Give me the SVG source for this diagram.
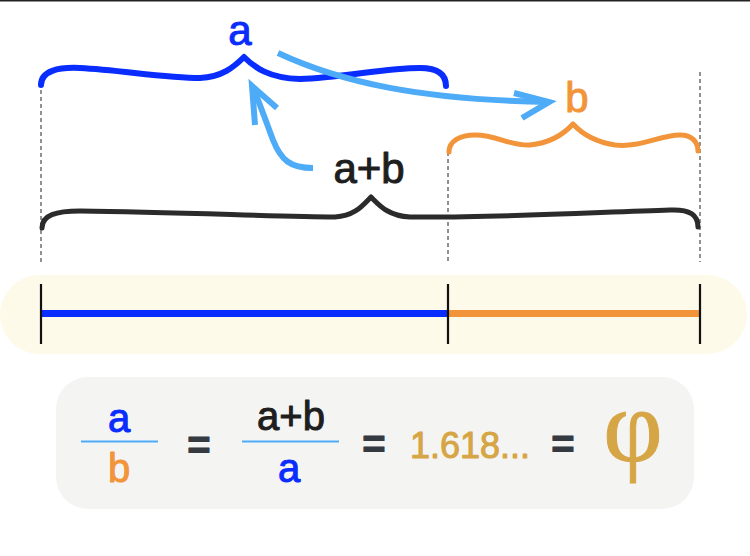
<svg xmlns="http://www.w3.org/2000/svg" width="750" height="556" viewBox="0 0 750 556">
  <style>
    .txt { font-family: "Liberation Sans", "DejaVu Sans", sans-serif; text-anchor: middle; stroke-width: 1; stroke-linejoin: round; }
    .brace { fill: none; stroke-linecap: round; stroke-linejoin: round; }
    .guide { stroke: #222222; stroke-width: 1; stroke-dasharray: 4 3; fill: none; }
    .arrow { fill: none; stroke: #4dabf7; stroke-width: 6; stroke-linecap: butt; stroke-linejoin: miter; }
    .tick { stroke: #111111; stroke-width: 2.2; }
    .eq { fill: #343a40; stroke: #343a40; font-weight: bold; font-size: 40px; }
    .fracline { stroke: #4dabf7; stroke-width: 2; }
    .blue { fill: #0a2dff; stroke: #0a2dff; }
    .orange { fill: #f2953a; stroke: #f2953a; }
    .dark { fill: #1e1e1e; stroke: #1e1e1e; }
    .gold { fill: #d6a545; stroke: #d6a545; }
  </style>
  <rect x="0" y="0" width="750" height="556" fill="#ffffff"/>
  <line x1="0" y1="0.8" x2="750" y2="0.8" stroke="#222222" stroke-width="1.6"/>

  <g id="guides">
    <line class="guide" x1="41" y1="83" x2="41" y2="262"/>
    <line class="guide" x1="448" y1="152" x2="448" y2="262"/>
    <line class="guide" x1="700" y1="72" x2="700" y2="262"/>
  </g>

  <g id="brace-a">
    <path class="brace" stroke="#0a2dff" stroke-width="6" d="M41,85 C41,71 58,67 80,68 C120,70 165,78 200,78 C222,77 234,67 244,57 C254,67 268,78 300,79 C340,78 385,68 420,68 C440,68 446,76 446,86"/>
  </g>
  <g id="label-a">
    <text class="txt blue" x="240" y="45" font-size="42">a</text>
  </g>

  <g id="brace-b">
    <path class="brace" stroke="#f2953a" stroke-width="5" d="M449,152 C449,141 460,135 475,135 C497,135 510,146 530,145 C550,143 563,135 573,124 C583,135 596,142 615,145 C640,148 660,135 680,135 C692,135 698,142 698,151"/>
  </g>
  <g id="label-b">
    <text class="txt orange" x="577" y="112" font-size="42">b</text>
  </g>

  <g id="brace-ab">
    <path class="brace" stroke="#2b2b2b" stroke-width="5" d="M42,228 C42,215 56,211 80,211 C180,212 280,217 335,217 C355,216 363,205 371,197 C379,205 388,216 410,217 C500,218 600,212 670,210 C690,209 698,215 698,227"/>
  </g>
  <g id="label-ab">
    <text class="txt dark" x="369" y="183" font-size="42">a+b</text>
  </g>

  <g id="connectors">
    <path class="arrow" d="M313,168 C290,168 281,160 273,140 C266,121 259,102 253,87"/>
    <path class="arrow" d="M255,125 L252,86 L277,108"/>
    <path class="arrow" d="M278,53 C340,82 420,100 550,102"/>
    <path class="arrow" d="M514,93 L549,102 L522,118"/>
  </g>

  <g id="bar">
    <rect x="0" y="275" width="747" height="79" rx="39.5" fill="#fefae9"/>
    <line x1="41" y1="313.5" x2="448" y2="313.5" stroke="#0a2dff" stroke-width="7"/>
    <line x1="448" y1="313.5" x2="700" y2="313.5" stroke="#f2953a" stroke-width="7"/>
    <line class="tick" x1="41" y1="284" x2="41" y2="344"/>
    <line class="tick" x1="448" y1="284" x2="448" y2="344"/>
    <line class="tick" x1="700" y1="284" x2="700" y2="344"/>
  </g>

  <g id="formula">
    <rect x="56" y="377" width="638" height="132" rx="32" fill="#f4f4f2"/>
    <text class="txt blue" x="119" y="432" font-size="40">a</text>
    <line class="fracline" x1="81" y1="441.5" x2="158" y2="441.5"/>
    <text class="txt orange" x="119" y="482" font-size="40">b</text>
    <text class="txt eq" x="199" y="459">=</text>
    <text class="txt dark" x="291" y="430" font-size="40">a+b</text>
    <line class="fracline" x1="242" y1="441.5" x2="339" y2="441.5"/>
    <text class="txt blue" x="289" y="482" font-size="40">a</text>
    <text class="txt eq" x="374" y="458">=</text>
    <text class="txt gold" x="470" y="458" font-size="36">1.618...</text>
    <text class="txt eq" x="563" y="458">=</text>
    <text class="gold" x="633" y="461" font-family="'Liberation Serif', 'DejaVu Serif', serif" text-anchor="middle" font-size="103" stroke-width="1">φ</text>
  </g>
</svg>
